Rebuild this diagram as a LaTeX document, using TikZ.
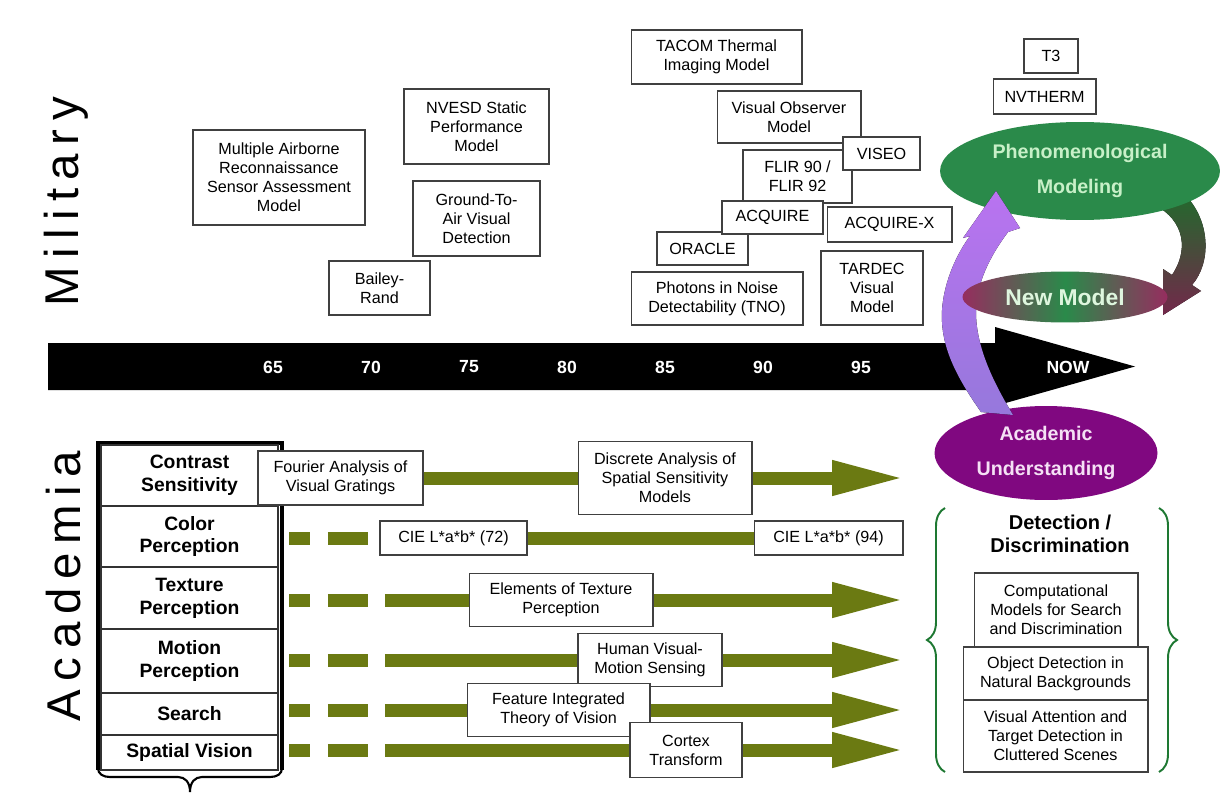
\documentclass[tikz,border=0pt]{standalone}
\usepackage{fontspec}
\setmainfont{Liberation Sans}
\newfontfamily\sidefont[LetterSpace=18]{Liberation Sans}
\usepackage{tikz}
\usetikzlibrary{shapes.geometric,arrows.meta,decorations.pathreplacing}

\definecolor{olivebar}{RGB}{107,122,18}
\definecolor{phengreen}{RGB}{42,138,74}
\definecolor{phentext}{RGB}{200,240,200}
\definecolor{acadpurple}{RGB}{128,8,128}
\definecolor{acadtext}{RGB}{245,225,245}
\definecolor{nmred}{RGB}{150,45,95}
\definecolor{lavtop}{RGB}{185,115,240}
\definecolor{lavbot}{RGB}{150,120,220}
\definecolor{loopgreen}{RGB}{35,105,45}
\definecolor{loopred}{RGB}{115,40,75}
\definecolor{bracegreen}{RGB}{30,120,50}

\newcommand{\bxfont}{\fontsize{9.2}{10.8}\selectfont}
\newcommand{\rowfont}{\bfseries\fontsize{11}{13}\selectfont}
\newcommand{\ovalfont}{\bfseries\fontsize{11.2}{20}\selectfont}

\begin{document}
\begin{tikzpicture}[x=0.02cm, y=-0.02cm,
  mbox/.style={draw=black!75, line width=0.6pt, fill=white, align=center, font=\bxfont, inner sep=1pt},
  rowcell/.style={draw=black!80, line width=0.6pt, minimum width=3.54cm, align=center, font=\rowfont, inner sep=0pt},
  oval/.style={ellipse, inner sep=0pt, align=center, font=\ovalfont},
  yearlbl/.style={text=white, font=\bfseries\fontsize{10}{12}\selectfont},
  sidelbl/.style={rotate=90, font=\sidefont\fontsize{27}{30}\selectfont},
  gbar/.style={draw=olivebar, line width=0.26cm},
  gstart/.style={gbar, dash pattern=on 0.42cm off 0.36cm on 0.8cm off 0.34cm on 30cm off 1pt},
  garrow/.style={gbar, -{Triangle[length=1.46cm,width=0.64cm]}},
  dbrace/.style={draw=bracegreen, line width=1.1pt, decorate, decoration={brace, amplitude=0.36cm}}
]
\useasboundingbox (0,0) rectangle (1222,797);

% Military models
\node[sidelbl] (milit) at (66,202) {Military};
\node[mbox, minimum width=3.44cm, minimum height=1.9cm] (marsam) at (279,177.5) {Multiple Airborne\\Reconnaissance\\Sensor Assessment\\Model};
\node[mbox, minimum width=2.02cm, minimum height=1.08cm] (bailey) at (379.5,288) {Bailey-\\Rand};
\node[mbox, minimum width=2.9cm, minimum height=1.5cm] (nvesd) at (476.5,126.5) {NVESD Static\\Performance\\Model};
\node[mbox, minimum width=2.54cm, minimum height=1.5cm] (gtav) at (476.5,218.5) {Ground-To-\\Air Visual\\Detection};
\node[mbox, minimum width=3.42cm, minimum height=1.08cm] (tacom) at (716.5,57) {TACOM Thermal\\Imaging Model};
\node[mbox, minimum width=2.88cm, minimum height=1.04cm] (vom) at (789,117) {Visual Observer\\Model};
\node[mbox, minimum width=2.18cm, minimum height=1.06cm] (flir) at (797.5,176.5) {FLIR 90 /\\FLIR 92};
\node[mbox, minimum width=1.54cm, minimum height=0.66cm] (viseo) at (881.5,153.5) {VISEO};
\node[mbox, minimum width=1.82cm, minimum height=0.66cm] (oracle) at (702.5,248.5) {ORACLE};
\node[mbox, minimum width=2.02cm, minimum height=0.66cm] (acquire) at (772.5,217.5) {ACQUIRE};
\node[mbox, minimum width=2.5cm, minimum height=0.7cm] (acqx) at (889.5,224.5) {ACQUIRE-X};
\node[mbox, minimum width=3.44cm, minimum height=1.06cm] (tno) at (717,298.5) {Photons in Noise\\Detectability (TNO)};
\node[mbox, minimum width=2.04cm, minimum height=1.48cm] (tardec) at (872,288) {TARDEC\\Visual\\Model};
\node[mbox, minimum width=1.08cm, minimum height=0.68cm] (tthree) at (1051,56) {T3};
\node[mbox, minimum width=2.06cm, minimum height=0.7cm] (nvtherm) at (1044.5,96.5) {NVTHERM};

% Time line
\fill (48,343) -- (995,343) -- (995,327) -- (1135,366.5) -- (995,406) -- (995,390) -- (48,390) -- cycle;
\foreach \yr [count=\i from 0] in {65,70,75,80,85,90,95}
  \node[yearlbl] (yr\yr) at (273+98*\i,367) {\yr};
\node[yearlbl] (ynow) at (1068,367) {NOW};

% Loop between modeling and new model
\fill[top color=loopgreen, bottom color=loopred] (1150,203) .. controls (1180,215) and (1192,245) .. (1172,275)
  -- (1163,269) -- (1163,315) -- (1201,291) -- (1192,285) .. controls (1212,262) and (1210,220) .. (1185,195) -- cycle;
\node[oval, fill=phengreen, text=phentext, minimum width=5.6cm, minimum height=1.96cm] (phen) at (1080,171) {Phenomenological\\Modeling};
\node[oval, fill=acadpurple, text=acadtext, minimum width=4.46cm, minimum height=1.88cm] (acad) at (1046,453) {Academic\\Understanding};
\fill[top color=lavtop, bottom color=lavbot] (981,412) .. controls (955,375) and (940,345) .. (942,310)
  .. controls (944,280) and (958,252) .. (970,236) -- (963,238) -- (996,191) -- (1020,228) -- (1008,232)
  .. controls (990,256) and (975,285) .. (976,315) .. controls (977,350) and (995,385) .. (1013,415) -- cycle;
\node[oval, left color=nmred, right color=nmred, middle color=phengreen, text=phentext!60!white, minimum width=4.1cm, minimum height=1.02cm, font=\bfseries\fontsize{13}{15}\selectfont] (newm) at (1065,297) {New Model};

% Academia topics
\node[sidelbl] (acadlbl) at (64,586) {Academia};
\draw[line width=1.8pt] (98,770) -- (98,443) -- (282,443) -- (282,770);
\draw[line width=1.2pt] (98,768) .. controls (98,774) and (103,777) .. (110,777) -- (178,777)
  .. controls (185,777) and (190,782) .. (190,792) .. controls (190,782) and (195,777) .. (202,777)
  -- (270,777) .. controls (277,777) and (282,774) .. (282,768);
\node[rowcell, minimum height=1.22cm] (cs) at (189.5,475.5) {Contrast\\Sensitivity};
\node[rowcell, minimum height=1.22cm] (cp) at (189.5,536.5) {Color\\Perception};
\node[rowcell, minimum height=1.24cm] (tp) at (189.5,598) {Texture\\Perception};
\node[rowcell, minimum height=1.28cm] (mp) at (189.5,661) {Motion\\Perception};
\node[rowcell, minimum height=0.84cm] (se) at (189.5,714) {Search};
\node[rowcell, minimum height=0.7cm] (sv) at (189.5,752.5) {Spatial Vision};

% Contrast sensitivity
\node[mbox, minimum width=3.3cm, minimum height=1.08cm] (fourier) at (340.5,478) {Fourier Analysis of\\Visual Gratings};
\node[mbox, minimum width=3.48cm, minimum height=1.46cm] (discrete) at (665,478) {Discrete Analysis of\\Spatial Sensitivity\\Models};
\coordinate (cs-e) at (905,478);
\draw[gbar] (fourier) -- (discrete);
\draw[garrow] (discrete) -- (cs-e);
% Color perception
\node[mbox, minimum width=2.94cm, minimum height=0.68cm] (cie72) at (453.5,538) {CIE L*a*b* (72)};
\node[mbox, minimum width=2.98cm, minimum height=0.68cm] (cie94) at (828.5,538) {CIE L*a*b* (94)};
\coordinate (cp-s) at (289,538);
\draw[gstart] (cp-s) -- (cie72);
\draw[gbar] (cie72) -- (cie94);
% Texture perception
\node[mbox, minimum width=3.68cm, minimum height=1.06cm] (elem) at (561,600) {Elements of Texture\\Perception};
\coordinate (tp-s) at (289,600);
\coordinate (tp-e) at (905,600);
\draw[gstart] (tp-s) -- (elem);
\draw[garrow] (elem) -- (tp-e);
% Motion perception
\node[mbox, minimum width=2.88cm, minimum height=1.06cm] (human) at (650,660) {Human Visual-\\Motion Sensing};
\coordinate (mp-s) at (289,660);
\coordinate (mp-e) at (905,660);
\draw[gstart] (mp-s) -- (human);
\draw[garrow] (human) -- (mp-e);
% Search
\node[mbox, minimum width=3.66cm, minimum height=1.06cm] (feature) at (558.5,710) {Feature Integrated\\Theory of Vision};
\coordinate (se-s) at (289,710);
\coordinate (se-e) at (905,710);
\draw[gstart] (se-s) -- (feature);
\draw[garrow] (feature) -- (se-e);
% Spatial vision
\node[mbox, minimum width=2.24cm, minimum height=1.1cm] (cortex) at (686,750) {Cortex\\Transform};
\coordinate (sv-s) at (289,750);
\coordinate (sv-e) at (905,750);
\draw[gstart] (sv-s) -- (cortex);
\draw[garrow] (cortex) -- (sv-e);

% Detection / discrimination
\node[font=\bfseries\fontsize{11.4}{13}\selectfont, align=center] (detdis) at (1060,533.5) {Detection /\\Discrimination};
\node[mbox, minimum width=3.28cm, minimum height=1.48cm] (comp) at (1056,610) {Computational\\Models for Search\\and Discrimination};
\node[mbox, minimum width=3.7cm, minimum height=1.06cm] (objd) at (1055.5,673.5) {Object Detection in\\Natural Backgrounds};
\node[mbox, minimum width=3.7cm, minimum height=1.44cm] (visat) at (1055.5,736) {Visual Attention and\\Target Detection in\\Cluttered Scenes};
\draw[dbrace] (945,772) -- (945,508);
\draw[dbrace] (1159,508) -- (1159,772);
\end{tikzpicture}
\end{document}
